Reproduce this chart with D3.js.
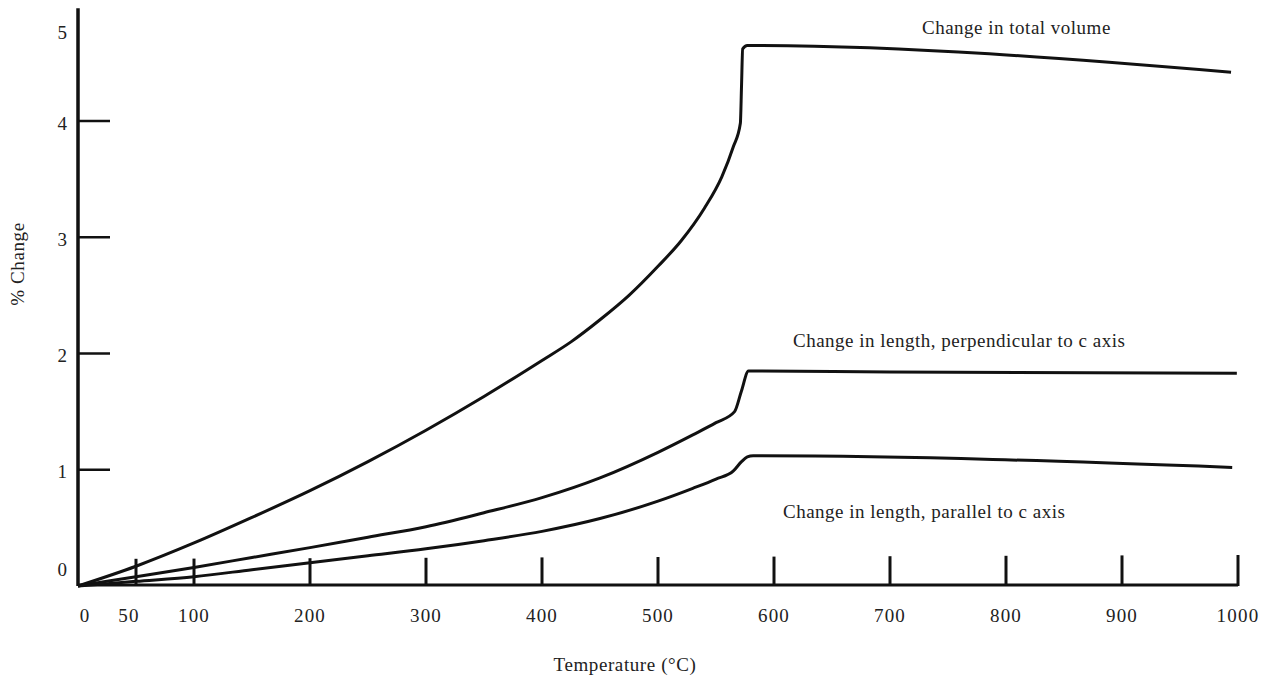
<!DOCTYPE html>
<html>
<head>
<meta charset="utf-8">
<script src="https://cdn.jsdelivr.net/npm/d3@7"></script>
<style>
  body { margin: 0; background: #fff; }
  text { font-family: "Liberation Serif", "DejaVu Serif", serif; fill: #222; }
</style>
</head>
<body>
<script>
// chart size, same as the browser window
var width = 1266,
    height = 681;

// temperatures (deg C) and % change
var volumeTemps  = [0, 50, 100, 150, 200, 250, 300, 350, 400, 425, 450, 475, 500, 520, 540, 555, 565, 571, 572, 573, 577, 994];
var volumeValues = [0, 0.17, 0.37, 0.59, 0.82, 1.07, 1.34, 1.63, 1.94, 2.1, 2.29, 2.5, 2.75, 2.97, 3.25, 3.52, 3.78, 3.98, 4.3, 4.62, 4.65, 4.42];

var perpTemps  = [0, 50, 100, 150, 200, 250, 300, 350, 400, 450, 500, 530, 550, 566, 572, 578, 700, 999];
var perpValues = [0, 0.08, 0.16, 0.245, 0.33, 0.42, 0.51, 0.63, 0.76, 0.93, 1.15, 1.3, 1.405, 1.5, 1.68, 1.85, 1.84, 1.83];

var paraTemps  = [0, 50, 100, 150, 200, 250, 300, 350, 400, 450, 500, 530, 550, 565, 572, 577, 582, 995];
var paraValues = [0, 0.04, 0.08, 0.14, 0.2, 0.26, 0.32, 0.39, 0.47, 0.58, 0.73, 0.84, 0.92, 0.99, 1.07, 1.11, 1.12, 1.02];

// tick labels
var xTicks = [50, 100, 200, 300, 400, 500, 600, 700, 800, 900, 1000];
var xLabels = [0, 50, 100, 200, 300, 400, 500, 600, 700, 800, 900, 1000];
var yTicks = [1, 2, 3, 4];
var yLabels = [0, 1, 2, 3, 4, 5];

var seriesNames = ['Change in total volume',
                   'Change in length, perpendicular to c axis',
                   'Change in length, parallel to c axis'];

// scales
var x = d3.scaleLinear().domain([0, 1000]).range([78, 1238]);
var y = d3.scaleLinear().domain([0, 5]).range([586, 4.75]);

var svg = d3.select('body')
    .append('svg')
    .attr('width', width)
    .attr('height', height);

// y axis line
svg.append('line')
    .attr('x1', x(0)).attr('x2', x(0))
    .attr('y1', y(0)).attr('y2', y(4.97))
    .attr('stroke', '#111')
    .attr('stroke-width', 3.5);

// y ticks point inward, to the right
svg.selectAll('.ytick')
    .data(yTicks)
    .enter().append('line')
    .attr('class', 'ytick')
    .attr('x1', x(0)).attr('x2', x(0) + 32)
    .attr('y1', function(d) { return y(d); })
    .attr('y2', function(d) { return y(d); })
    .attr('stroke', '#111')
    .attr('stroke-width', 2.5);

// y labels, 0 and 5 sit a bit off their value like in the print
svg.selectAll('.ylabel')
    .data(yLabels)
    .enter().append('text')
    .attr('class', 'ylabel')
    .attr('x', 67)
    .attr('y', function(d) {
        var off = d === 0 ? -17 : (d === 5 ? 28 : 2);
        return y(d) + off;
    })
    .attr('dy', '0.35em')
    .attr('text-anchor', 'end')
    .style('font-size', '19px')
    .text(function(d) { return d; });

// x axis line
svg.append('line')
    .attr('x1', x(0)).attr('x2', x(1000))
    .attr('y1', y(0) - 1).attr('y2', y(0) - 1)
    .attr('stroke', '#111')
    .attr('stroke-width', 3);

// x ticks point upward
svg.selectAll('.xtick')
    .data(xTicks)
    .enter().append('line')
    .attr('class', 'xtick')
    .attr('x1', function(d) { return x(d); })
    .attr('x2', function(d) { return x(d); })
    .attr('y1', y(0))
    .attr('y2', function(d) { return y(0) - 27 - d / 250; })
    .attr('stroke', '#111')
    .attr('stroke-width', 3);

svg.selectAll('.xlabel')
    .data(xLabels)
    .enter().append('text')
    .attr('class', 'xlabel')
    .attr('x', function(d) {
        var off = d === 0 ? 7 : (d === 50 ? -7 : 0);
        return x(d) + off;
    })
    .attr('y', 622)
    .attr('text-anchor', 'middle')
    .style('font-size', '19px')
    .style('letter-spacing', '1.2px')
    .text(function(d) { return d; });

// axis titles
svg.append('text')
    .attr('x', 625)
    .attr('y', 671)
    .attr('text-anchor', 'middle')
    .style('font-size', '19px')
    .style('letter-spacing', '0.6px')
    .text('Temperature (\u00B0C)');

svg.append('text')
    .attr('transform', 'translate(24,264) rotate(-90)')
    .attr('text-anchor', 'middle')
    .style('font-size', '19px')
    .style('letter-spacing', '0.6px')
    .text('% Change');

// the three curves
var line = d3.line()
    .x(function(d) { return x(d[0]); })
    .y(function(d) { return y(d[1]); })
    .curve(d3.curveMonotoneX);

var series = [
    d3.zip(volumeTemps, volumeValues),
    d3.zip(perpTemps, perpValues),
    d3.zip(paraTemps, paraValues)
];

svg.selectAll('.curve')
    .data(series)
    .enter().append('path')
    .attr('class', 'curve')
    .attr('d', line)
    .attr('fill', 'none')
    .attr('stroke', '#111')
    .attr('stroke-width', 3)
    .attr('stroke-linejoin', 'round');

// curve labels
var labelPos = [[922, 34], [793, 347], [783, 518]];

svg.selectAll('.clabel')
    .data(seriesNames)
    .enter().append('text')
    .attr('class', 'clabel')
    .attr('x', function(d, i) { return labelPos[i][0]; })
    .attr('y', function(d, i) { return labelPos[i][1]; })
    .style('font-size', '19px')
    .style('letter-spacing', '0.5px')
    .text(function(d) { return d; });
</script>
</body>
</html>
